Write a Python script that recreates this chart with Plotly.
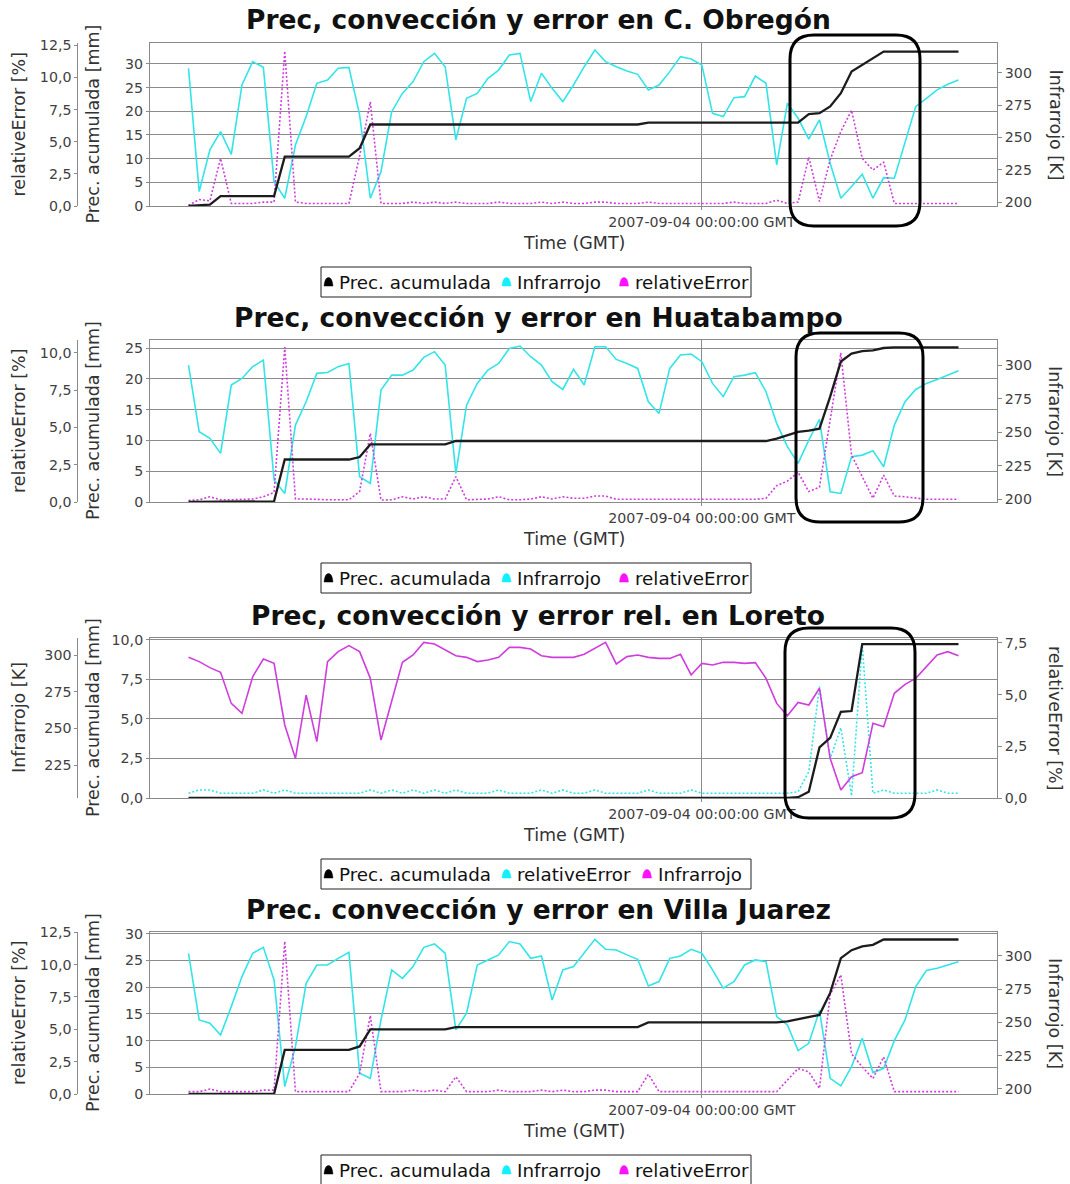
import plotly.graph_objects as go
import pandas as pd

# ---------------- data ----------------
times = pd.date_range("2007-08-29 00:00", periods=73, freq="3h")
tick_time = [pd.Timestamp("2007-09-04 00:00")]
tick_text = ["2007-09-04 00:00:00 GMT"]

# Panel 1: C. Obregón
prec_obregon = [0.0, 0.2, 0.3, 2.1, 2.1, 2.1, 2.1, 2.1, 2.1, 10.4,
                10.4, 10.4, 10.4, 10.4, 10.4, 10.4, 12.2, 17.2, 17.2, 17.2,
                17.2, 17.2, 17.2, 17.2, 17.2, 17.2, 17.2, 17.2, 17.2, 17.2,
                17.2, 17.2, 17.2, 17.2, 17.2, 17.2, 17.2, 17.2, 17.2, 17.2,
                17.2, 17.2, 17.2, 17.6, 17.6, 17.6, 17.6, 17.6, 17.6, 17.6,
                17.6, 17.6, 17.6, 17.6, 17.6, 17.6, 17.6, 17.6, 19.4, 19.6,
                21.0, 23.8, 28.4, 29.8, 31.1, 32.6, 32.6, 32.6, 32.6, 32.6,
                32.6, 32.6, 32.6]
ir_obregon = [303.4, 208.2, 240.4, 254.5, 237.0, 290.5, 308.5, 304.1, 215.9, 203.1,
              244.2, 266.1, 291.8, 294.4, 303.4, 304.1, 267.4, 203.1, 223.6, 269.9,
              284.0, 293.1, 308.5, 314.9, 304.6, 248.1, 280.2, 284.0, 295.6, 302.0,
              313.7, 314.9, 277.7, 299.5, 287.9, 277.7, 290.5, 304.6, 317.5, 308.5,
              304.6, 301.3, 298.7, 286.7, 290.5, 300.8, 312.4, 310.6, 305.9, 268.6,
              266.1, 280.7, 281.5, 297.4, 291.8, 228.8, 276.4, 264.8, 248.8, 263.5,
              230.1, 203.1, 212.1, 221.6, 203.1, 219.0, 218.5, 246.8, 273.8, 280.2,
              286.7, 291.0, 294.4]
err_obregon = [0.05, 0.5, 0.4, 3.7, 0.2, 0.2, 0.2, 0.3, 0.3, 12.05,
               0.3, 0.2, 0.2, 0.2, 0.2, 0.2, 3.9, 8.1, 0.2, 0.2,
               0.2, 0.3, 0.2, 0.3, 0.2, 0.3, 0.2, 0.2, 0.2, 0.3,
               0.2, 0.2, 0.2, 0.3, 0.2, 0.3, 0.2, 0.2, 0.3, 0.3,
               0.2, 0.2, 0.2, 0.3, 0.2, 0.2, 0.2, 0.2, 0.2, 0.2,
               0.2, 0.3, 0.2, 0.2, 0.2, 0.45, 0.2, 0.3, 3.8, 0.35,
               3.6, 5.8, 7.45, 3.7, 2.8, 3.4, 0.2, 0.2, 0.2, 0.2,
               0.2, 0.2, 0.2]

# Panel 2: Huatabampo
prec_huata = [0.0, 0.0, 0.0, 0.0, 0.0, 0.0, 0.0, 0.0, 0.1, 6.9,
              6.9, 6.9, 6.9, 6.9, 6.9, 6.9, 7.3, 9.35, 9.35, 9.35,
              9.35, 9.35, 9.35, 9.35, 9.35, 9.9, 9.9, 9.9, 9.9, 9.9,
              9.9, 9.9, 9.9, 9.9, 9.9, 9.9, 9.9, 9.9, 9.9, 9.9,
              9.9, 9.9, 9.9, 9.9, 9.9, 9.9, 9.9, 9.9, 9.9, 9.9,
              9.9, 9.9, 9.9, 9.9, 9.9, 10.3, 10.9, 11.4, 11.6, 11.9,
              17.1, 22.8, 24.1, 24.5, 24.6, 25.0, 25.1, 25.1, 25.1, 25.1,
              25.1, 25.1, 25.1]
ir_huata = [300.0, 250.2, 245.3, 234.1, 285.1, 290.0, 298.8, 303.7, 214.2, 204.2,
            255.2, 272.6, 293.8, 294.5, 298.8, 301.2, 216.7, 211.7, 281.3, 292.5,
            292.5, 296.3, 305.7, 310.0, 300.0, 219.2, 270.1, 286.3, 296.3, 301.2,
            312.4, 314.2, 306.2, 300.0, 287.6, 281.8, 296.8, 285.1, 313.7, 313.7,
            304.2, 301.2, 297.5, 272.6, 263.9, 297.5, 307.5, 308.2, 302.5, 286.3,
            276.4, 291.3, 292.5, 294.3, 280.1, 256.5, 239.1, 226.6, 244.0, 259.5,
            205.5, 204.2, 231.6, 232.8, 236.1, 224.1, 255.2, 272.6, 281.8, 286.3,
            289.3, 292.5, 295.8]
err_huata = [0.1, 0.15, 0.35, 0.15, 0.15, 0.15, 0.2, 0.35, 0.65, 10.4,
             0.2, 0.2, 0.15, 0.15, 0.15, 0.15, 0.7, 4.6, 0.13, 0.15,
             0.35, 0.2, 0.35, 0.2, 0.2, 1.7, 0.15, 0.15, 0.2, 0.35,
             0.15, 0.15, 0.2, 0.35, 0.2, 0.35, 0.25, 0.25, 0.4, 0.4,
             0.18, 0.18, 0.18, 0.18, 0.18, 0.18, 0.18, 0.18, 0.18, 0.18,
             0.18, 0.18, 0.18, 0.18, 0.25, 1.1, 1.4, 2.0, 0.7, 1.0,
             5.5, 10.0, 3.15, 1.7, 0.25, 1.8, 0.4, 0.35, 0.25, 0.18,
             0.18, 0.18, 0.18]

# Panel 3: Loreto
prec_loreto = [0.0] * 57 + [0.05, 0.4, 3.2, 3.8, 5.45, 5.5, 9.73, 9.73, 9.73, 9.73,
                            9.73, 9.73, 9.73, 9.73, 9.73, 9.73]
err_loreto = [0.23, 0.39, 0.39, 0.23, 0.23, 0.23, 0.23, 0.39, 0.23, 0.39,
              0.23, 0.23, 0.23, 0.23, 0.23, 0.23, 0.23, 0.39, 0.23, 0.39,
              0.23, 0.39, 0.23, 0.39, 0.23, 0.39, 0.23, 0.23, 0.23, 0.39,
              0.23, 0.23, 0.23, 0.39, 0.23, 0.39, 0.23, 0.23, 0.39, 0.23,
              0.23, 0.23, 0.23, 0.39, 0.23, 0.23, 0.23, 0.39, 0.23, 0.23,
              0.23, 0.23, 0.23, 0.23, 0.23, 0.23, 0.23, 0.3, 1.27, 5.4,
              1.9, 3.4, 0.1, 7.4, 0.23, 0.39, 0.23, 0.23, 0.23, 0.23,
              0.39, 0.23, 0.23]
ir_loreto = [298.4, 295.5, 291.4, 288.2, 267.0, 260.2, 285.2, 297.3, 294.3, 252.3,
             229.5, 272.7, 240.9, 295.5, 302.3, 306.4, 302.3, 284.1, 242.0, 268.2,
             295.0, 300.0, 308.6, 307.5, 303.4, 299.5, 298.4, 295.5, 296.6, 298.4,
             305.2, 305.2, 304.1, 299.5, 298.4, 298.4, 298.4, 300.5, 304.5, 308.6,
             293.9, 298.9, 300.0, 298.4, 297.7, 297.7, 300.5, 286.4, 294.3, 293.2,
             295.0, 295.0, 294.3, 294.8, 284.1, 267.0, 258.6, 267.7, 265.9, 277.3,
             229.5, 208.0, 217.0, 219.8, 253.4, 251.1, 273.9, 280.0, 284.1, 292.0,
             300.0, 302.3, 299.5]

# Panel 4: Villa Juarez
prec_villa = [0.0, 0.0, 0.0, 0.0, 0.0, 0.0, 0.0, 0.0, 0.0, 8.25,
              8.25, 8.25, 8.25, 8.25, 8.25, 8.25, 8.9, 12.1, 12.1, 12.1,
              12.1, 12.1, 12.1, 12.1, 12.1, 12.5, 12.5, 12.5, 12.5, 12.5,
              12.5, 12.5, 12.5, 12.5, 12.5, 12.5, 12.5, 12.5, 12.5, 12.5,
              12.5, 12.5, 12.5, 13.4, 13.4, 13.4, 13.4, 13.4, 13.4, 13.4,
              13.4, 13.4, 13.4, 13.4, 13.4, 13.4, 13.6, 14.0, 14.4, 14.8,
              18.9, 25.4, 26.9, 27.6, 27.9, 28.9, 28.9, 28.9, 28.9, 28.9,
              28.9, 28.9, 28.9]
ir_villa = [302.0, 251.9, 249.4, 240.6, 261.9, 284.5, 302.0, 306.5, 282.0, 201.8,
            231.8, 279.4, 293.2, 293.2, 298.2, 302.8, 211.8, 208.0, 251.9, 289.5,
            283.2, 292.0, 306.5, 309.0, 302.0, 244.4, 256.9, 293.2, 297.0, 300.8,
            310.8, 309.0, 298.2, 300.0, 266.9, 289.5, 292.0, 302.0, 312.5, 305.0,
            304.5, 300.8, 297.5, 277.4, 280.7, 298.2, 300.0, 305.0, 302.0, 289.5,
            275.7, 280.7, 293.2, 297.0, 295.7, 254.4, 248.1, 228.8, 234.3, 258.9,
            208.0, 202.3, 216.8, 238.1, 212.3, 215.5, 236.3, 251.9, 276.9, 289.0,
            290.7, 293.2, 295.7]
err_villa = [0.18, 0.18, 0.38, 0.18, 0.18, 0.18, 0.18, 0.3, 0.3, 11.8,
             0.18, 0.18, 0.18, 0.18, 0.18, 0.18, 1.6, 6.06, 0.18, 0.18,
             0.18, 0.3, 0.18, 0.3, 0.18, 1.33, 0.18, 0.18, 0.18, 0.3,
             0.18, 0.18, 0.18, 0.3, 0.18, 0.3, 0.18, 0.18, 0.3, 0.3,
             0.18, 0.18, 0.18, 1.53, 0.18, 0.18, 0.18, 0.18, 0.18, 0.18,
             0.18, 0.18, 0.18, 0.18, 0.18, 0.18, 1.07, 1.97, 1.71, 0.43,
             7.7, 9.2, 3.1, 2.1, 1.2, 2.86, 0.18, 0.18, 0.18, 0.18,
             0.18, 0.18, 0.18]

for arr in [prec_obregon, ir_obregon, err_obregon, prec_huata, ir_huata, err_huata,
            prec_loreto, err_loreto, ir_loreto, prec_villa, ir_villa, err_villa]:
    assert len(arr) == 73, len(arr)

# ---------------- styling / layout ----------------
W, H = 1070, 1184
FONT = "DejaVu Sans"
CYAN_LINE, MAG_LINE, BLACK_LINE = "#33e4e8", "#cf3ddd", "#1c1c1c"
CYAN_MK, MAG_MK, BLACK_MK = "#10f0ff", "#ff10ff", "#000000"
GRID, OUTLINE, TICKC = "#8c8c8c", "#8a8a8a", "#404040"
X_RANGE = [pd.Timestamp("2007-08-28 13:12"), pd.Timestamp("2007-09-07 10:48")]
PLOT_X0, PLOT_X1, OUTER_X = 150, 997, 77.3
LEG_L, LEG_R = 321, 751


def py(y):
    return 1 - y / H


def P(x, y):
    return f"{x / W:.5f},{1 - y / H:.5f}"


IR = dict(name="Infrarrojo", title="Infrarrojo [K]", dash="solid", fmt="d", tick0=200, dtick=25)
ER = dict(name="relativeError", title="relativeError [%]", dash="2px,2px", fmt=".1f", tick0=0, dtick=2.5)

panels = [
    dict(title="Prec, convección y error en C. Obregón", top=43, bot=206,
         prec=prec_obregon, prec_rng=[0, 34.4], prec_fmt="d", prec_dtick=5,
         right=dict(IR, vals=ir_obregon, rng=[197.1, 322.9]),
         outer=dict(ER, vals=err_obregon, rng=[0, 12.68]),
         box=(790, 35, 920, 226)),
    dict(title="Prec, convección y error en Huatabampo", top=340, bot=502,
         prec=prec_huata, prec_rng=[0, 26.3], prec_fmt="d", prec_dtick=5,
         right=dict(IR, vals=ir_huata, rng=[197.8, 318.7]),
         outer=dict(ER, vals=err_huata, rng=[0, 10.87]),
         box=(796, 333, 923, 522)),
    dict(title="Prec, convección y error rel. en Loreto", top=638, bot=798,
         prec=prec_loreto, prec_rng=[0, 10.12], prec_fmt=".1f", prec_dtick=2.5,
         right=dict(ER, vals=err_loreto, rng=[0, 7.74]),
         outer=dict(IR, vals=ir_loreto, rng=[202.5, 311.6]),
         box=(785, 628, 915, 818)),
    dict(title="Prec. convección y error en Villa Juarez", top=932, bot=1094,
         prec=prec_villa, prec_rng=[0, 30.3], prec_fmt="d", prec_dtick=5,
         right=dict(IR, vals=ir_villa, rng=[196.2, 318.0]),
         outer=dict(ER, vals=err_villa, rng=[0, 12.52]),
         box=None),
]


def ref(prefix, n):
    return prefix if n == 1 else f"{prefix}{n}"


def rrect(x0, y0, x1, y1, r):
    return (f"M {P(x0 + r, y0)} L {P(x1 - r, y0)} Q {P(x1, y0)} {P(x1, y0 + r)} "
            f"L {P(x1, y1 - r)} Q {P(x1, y1)} {P(x1 - r, y1)} "
            f"L {P(x0 + r, y1)} Q {P(x0, y1)} {P(x0, y1 - r)} "
            f"L {P(x0, y0 + r)} Q {P(x0, y0)} {P(x0 + r, y0)} Z")


def bell(cx, cy):
    # dome-shaped legend symbol (flat bottom, rounded top)
    return (f"M {P(cx - 4.5, cy + 4)} L {P(cx + 4.5, cy + 4)} L {P(cx + 3.8, cy)} "
            f"Q {P(cx + 2.8, cy - 4.5)} {P(cx, cy - 4.5)} Q {P(cx - 2.8, cy - 4.5)} {P(cx - 3.8, cy)} Z")


fig = go.Figure()
layout = dict(width=W, height=H, margin=dict(l=0, r=0, t=0, b=0, autoexpand=False),
              paper_bgcolor="white", plot_bgcolor="white", separators=",.",
              font=dict(family=FONT, color="#000"), showlegend=False)
annotations, shapes = [], []
tickfont = dict(family=FONT, size=14.2, color=TICKC)
lblfont = dict(family=FONT, size=17.5, color="#333")
legfont = dict(family=FONT, size=18.3, color="#111")

for k, p in enumerate(panels):
    xn = k + 1
    yb, yo, yp = 3 * k + 1, 3 * k + 2, 3 * k + 3
    xr, ybr, yor, ypr = ref("x", xn), ref("y", yb), ref("y", yo), ref("y", yp)
    dom = [py(p["bot"]), py(p["top"])]
    right, outer = p["right"], p["outer"]

    layout[ref("xaxis", xn)] = dict(
        type="date", domain=[PLOT_X0 / W, PLOT_X1 / W], anchor=ybr, range=X_RANGE,
        tickvals=tick_time, ticktext=tick_text, tickfont=tickfont, automargin=False,
        showgrid=True, gridcolor=GRID, gridwidth=1, zeroline=False,
        showline=True, mirror=True, linecolor=OUTLINE, linewidth=1,
        ticks="outside", ticklen=3, tickcolor=OUTLINE)
    layout[ref("yaxis", yb)] = dict(
        domain=dom, anchor=xr, side="right", range=right["rng"], automargin=False,
        tick0=right["tick0"], dtick=right["dtick"], tickformat=right["fmt"],
        tickfont=tickfont, showgrid=False, zeroline=False,
        showline=True, mirror=True, linecolor=OUTLINE, linewidth=1,
        ticks="outside", ticklen=4, tickcolor=OUTLINE)
    layout[ref("yaxis", yo)] = dict(
        overlaying=ybr, anchor="free", position=OUTER_X / W, side="left", automargin=False,
        range=outer["rng"], tick0=outer["tick0"], dtick=outer["dtick"],
        tickformat=outer["fmt"], tickfont=tickfont, showgrid=False, zeroline=False,
        showline=True, linecolor=OUTLINE, linewidth=1,
        ticks="outside", ticklen=3, tickcolor=OUTLINE)
    layout[ref("yaxis", yp)] = dict(
        overlaying=ybr, anchor=xr, side="left", range=p["prec_rng"], automargin=False,
        tick0=0, dtick=p["prec_dtick"], tickformat=p["prec_fmt"], tickfont=tickfont,
        showgrid=True, gridcolor=GRID, gridwidth=1, zeroline=False,
        showline=False, ticks="outside", ticklen=3, tickcolor=OUTLINE)

    # data traces
    fig.add_trace(go.Scatter(x=times, y=right["vals"], mode="lines", xaxis=xr, yaxis=ybr,
                             name=right["name"], hoverinfo="skip",
                             line=dict(color=CYAN_LINE, width=1.6, dash=right["dash"])))
    fig.add_trace(go.Scatter(x=times, y=outer["vals"], mode="lines", xaxis=xr, yaxis=yor,
                             name=outer["name"], hoverinfo="skip",
                             line=dict(color=MAG_LINE, width=1.6, dash=outer["dash"])))
    fig.add_trace(go.Scatter(x=times, y=p["prec"], mode="lines", xaxis=xr, yaxis=ypr,
                             name="Prec. acumulada", hoverinfo="skip",
                             line=dict(color=BLACK_LINE, width=2.3)))

    # legend box (drawn: symbol + text per series)
    ltop = p["bot"] + 61
    lbot = min(ltop + 30, H + 2)
    lcy = ltop + 15
    shapes.append(dict(type="rect", xref="paper", yref="paper", x0=LEG_L / W, x1=LEG_R / W,
                       y0=py(lbot), y1=py(ltop), line=dict(color="#222", width=1),
                       fillcolor="white", layer="above"))
    names = ["Prec. acumulada", right["name"], outer["name"]]
    cols = [BLACK_MK, CYAN_MK, MAG_MK]
    if right["name"] == "Infrarrojo":
        text_x = [337, 515, 747.5 - 115]
    else:
        text_x = [337, 515, 747.5 - 92]
    for nm, col, tx in zip(names, cols, text_x):
        shapes.append(dict(type="path", path=bell(tx - 8.5, lcy), xref="paper", yref="paper",
                           fillcolor=col, line=dict(color=col, width=0.5), layer="above"))
        annotations.append(dict(text=nm, x=tx / W, y=py(lcy), xref="paper", yref="paper",
                                showarrow=False, font=legfont, xanchor="left", yanchor="middle"))

    # titles and axis labels
    midy = py((p["top"] + p["bot"]) / 2)
    annotations.append(dict(text=f"<b>{p['title']}</b>", x=538 / W, y=py(p["top"] - 23),
                            xref="paper", yref="paper", showarrow=False,
                            font=dict(family=FONT, size=26.5, color="#111"),
                            xanchor="center", yanchor="middle"))
    annotations.append(dict(text="Time (GMT)", x=573.5 / W, y=py(p["bot"] + 37),
                            xref="paper", yref="paper", showarrow=False, font=lblfont,
                            xanchor="center", yanchor="middle"))
    annotations.append(dict(text=outer["title"], x=19 / W, y=midy, xref="paper", yref="paper",
                            showarrow=False, font=lblfont, textangle=-90,
                            xanchor="center", yanchor="middle"))
    annotations.append(dict(text="Prec. acumulada [mm]", x=93 / W, y=midy, xref="paper",
                            yref="paper", showarrow=False, font=lblfont, textangle=-90,
                            xanchor="center", yanchor="middle"))
    annotations.append(dict(text=right["title"], x=1055 / W, y=midy, xref="paper", yref="paper",
                            showarrow=False, font=lblfont, textangle=90,
                            xanchor="center", yanchor="middle"))
    if p["box"]:
        shapes.append(dict(type="path", path=rrect(*p["box"], 24), xref="paper", yref="paper",
                           line=dict(color="black", width=3), layer="above"))

layout["annotations"] = annotations
layout["shapes"] = shapes
fig.update_layout(**layout)
fig.write_html("out.html", config={"displayModeBar": False},
               post_script="document.body.style.margin='0px';document.body.style.overflow='hidden';")
